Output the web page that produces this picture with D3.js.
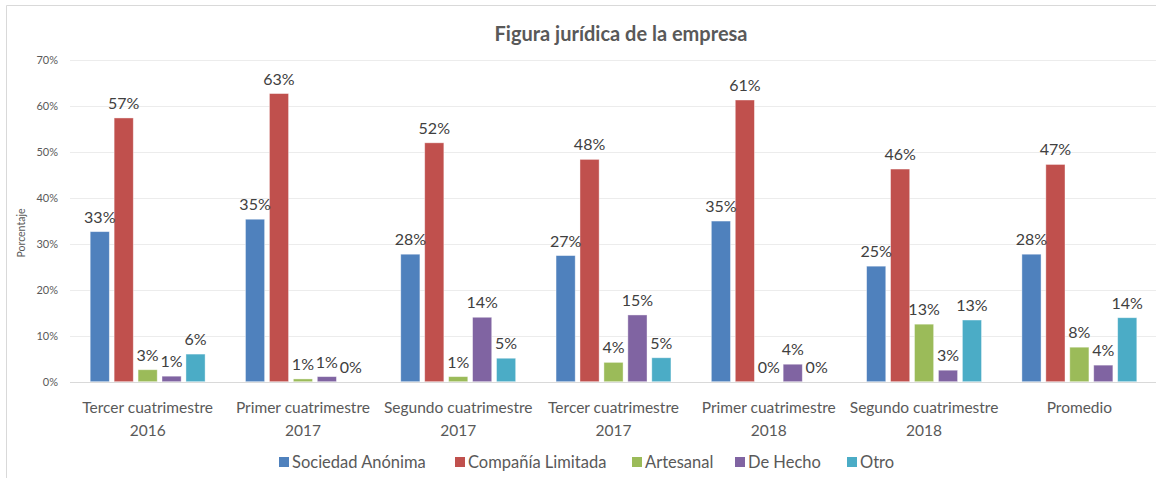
<!DOCTYPE html>
<html>
<head>
<meta charset="utf-8">
<script src="https://cdn.jsdelivr.net/npm/d3@7"></script>
<style>
  body { margin: 0; background: #fff; }
  text { font-family: Lato, "Open Sans", sans-serif; }
</style>
</head>
<body>
<div id="container"></div>
<script>
// categories (two lines each)
var categories = [
    ["Tercer cuatrimestre", "2016"],
    ["Primer cuatrimestre", "2017"],
    ["Segundo cuatrimestre", "2017"],
    ["Tercer cuatrimestre", "2017"],
    ["Primer cuatrimestre", "2018"],
    ["Segundo cuatrimestre", "2018"],
    ["Promedio"]
];
var series = ["Sociedad Anónima", "Compañía Limitada", "Artesanal", "De Hecho", "Otro"];
var colors = ["#4F81BD", "#C0504D", "#9BBB59", "#8064A2", "#4BACC6"];

// values in %, one array per series
var sociedadAnonima = [32.6, 35.3, 27.7, 27.4, 34.9, 25.1, 27.7];
var companiaLimitada = [57.3, 62.6, 51.9, 48.3, 61.2, 46.2, 47.2];
var artesanal = [2.6, 0.6, 1.1, 4.2, 0, 12.5, 7.5];
var deHecho = [1.2, 1.1, 14.0, 14.5, 3.8, 2.5, 3.6];
var otro = [6.0, 0, 5.1, 5.2, 0, 13.4, 13.9];
var values = [sociedadAnonima, companiaLimitada, artesanal, deHecho, otro];

var yTicks = [0, 10, 20, 30, 40, 50, 60, 70];

var width = 1156;
var height = 478;

var svg = d3.select("#container")
    .append("svg")
    .attr("width", width)
    .attr("height", height);

// chart border (cropped on the right and bottom)
svg.append("path")
    .attr("d", "M6.5,478 V5.5 H1156")
    .attr("fill", "none")
    .attr("stroke", "#d9d9d9")
    .attr("stroke-width", 1);

var x = d3.scaleBand()
    .domain(d3.range(categories.length))
    .range([70, 1157])
    .paddingInner(0.26)
    .paddingOuter(0.13);

var xs = d3.scaleBand()
    .domain(d3.range(series.length))
    .range([0, x.bandwidth()])
    .paddingInner(0.2);

var y = d3.scaleLinear()
    .domain([0, 70])
    .range([381.7, 59.5]);

// gridlines
svg.append("g")
    .selectAll("line")
    .data(yTicks)
    .enter()
    .append("line")
    .attr("x1", 70)
    .attr("x2", width)
    .attr("y1", d => Math.round(y(d)) + 0.5)
    .attr("y2", d => Math.round(y(d)) + 0.5)
    .attr("stroke", d => d == 0 ? "#d9d9d9" : "#ececec")
    .attr("stroke-width", 1);

// y axis labels
svg.append("g")
    .selectAll("text")
    .data(yTicks)
    .enter()
    .append("text")
    .attr("x", 58)
    .attr("y", d => y(d) + 4)
    .attr("text-anchor", "end")
    .attr("font-size", "11px")
    .attr("fill", "#595959")
    .text(d => d + "%");

svg.append("text")
    .attr("transform", "translate(25,233) rotate(-90)")
    .attr("text-anchor", "middle")
    .attr("font-size", "10.5px")
    .attr("fill", "#595959")
    .text("Porcentaje");

// bars
var groups = svg.append("g")
    .selectAll("g")
    .data(categories.map((c, i) => i))
    .enter()
    .append("g")
    .attr("transform", i => "translate(" + x(i) + ",0)");

groups.selectAll("rect")
    .data(i => values.map((v, s) => ({ s: s, v: v[i] })))
    .enter()
    .append("rect")
    .attr("x", d => xs(d.s))
    .attr("width", xs.bandwidth())
    .attr("y", d => y(d.v))
    .attr("height", d => y(0) - y(d.v))
    .attr("fill", d => colors[d.s])
    .attr("stroke", "#ffffff")
    .attr("stroke-opacity", 0.5)
    .attr("stroke-width", 0.8);

groups.selectAll("text")
    .data(i => values.map((v, s) => ({ s: s, v: v[i] })))
    .enter()
    .append("text")
    .attr("x", d => xs(d.s) + xs.bandwidth() / 2)
    .attr("y", d => y(d.v) - 9)
    .attr("text-anchor", "middle")
    .attr("font-size", "16px")
    .attr("fill", "#404040")
    .text(d => Math.round(d.v) + "%");

// category labels
var cat = svg.append("g")
    .selectAll("text")
    .data(categories)
    .enter()
    .append("text")
    .attr("x", (d, i) => x(i) + x.bandwidth() / 2)
    .attr("y", 413)
    .attr("text-anchor", "middle")
    .attr("font-size", "15.5px")
    .attr("fill", "#595959");

cat.selectAll("tspan")
    .data(d => d)
    .enter()
    .append("tspan")
    .attr("x", function () { return d3.select(this.parentNode).attr("x"); })
    .attr("dy", (d, i) => i == 0 ? 0 : 23)
    .text(d => d);

// title
svg.append("text")
    .attr("x", 621)
    .attr("y", 41)
    .attr("text-anchor", "middle")
    .attr("font-size", "20px")
    .attr("font-weight", "bold")
    .attr("fill", "#595959")
    .text("Figura jurídica de la empresa");

// legend
var legendX = [279, 455, 632, 735, 847];
var legend = svg.append("g")
    .selectAll("g")
    .data(series)
    .enter()
    .append("g")
    .attr("transform", (d, i) => "translate(" + legendX[i] + ",457)");

legend.append("rect")
    .attr("width", 10)
    .attr("height", 10)
    .attr("fill", (d, i) => colors[i]);

legend.append("text")
    .attr("x", 13)
    .attr("y", 10.5)
    .attr("font-size", "16.5px")
    .attr("fill", "#595959")
    .text(d => d);
</script>
</body>
</html>
